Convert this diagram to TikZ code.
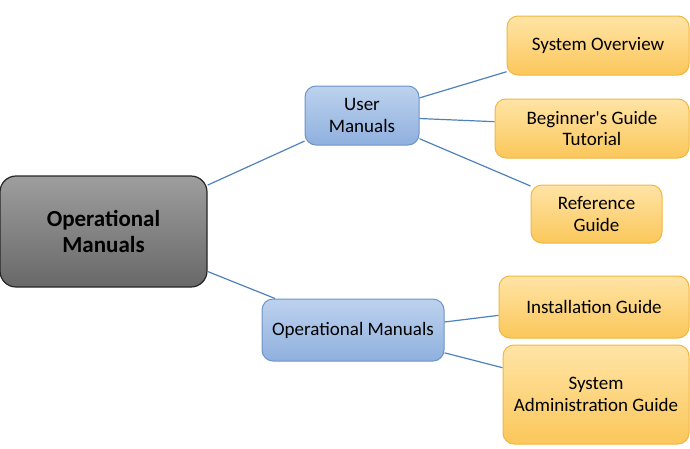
\documentclass[tikz,border=0pt]{standalone}
\usepackage{fontspec}
\setmainfont{Carlito}
\definecolor{ybot}{HTML}{FBC75A}
\definecolor{ytop}{HTML}{FFE4A6}
\definecolor{yline}{HTML}{F2B640}
\definecolor{btop}{HTML}{BDD2EE}
\definecolor{bbot}{HTML}{8FB0DE}
\definecolor{bline}{HTML}{6C94C8}
\definecolor{gtop}{HTML}{9E9E9E}
\definecolor{gbot}{HTML}{686868}
\definecolor{conn}{HTML}{4F81BD}
\tikzset{
  boxbase/.style={rounded corners=11pt, inner sep=0pt, align=center, line width=1pt,
    font=\fontsize{19}{21.5}\selectfont},
  leafbox/.style={boxbase, draw=yline, top color=ytop, bottom color=ybot},
  midbox/.style={boxbase, draw=bline, top color=btop, bottom color=bbot},
  rootbox/.style={boxbase, rounded corners=16pt, draw=black!85, line width=1.2pt, top color=gtop, bottom color=gbot,
    font=\fontsize{23}{26.5}\selectfont\bfseries},
  link/.style={draw=conn, line width=1.2pt}
}
\begin{document}
\begin{tikzpicture}[x=1pt,y=-1pt]
\useasboundingbox (0,0) rectangle (690,448);
\node[rootbox, minimum width=207pt, minimum height=111pt] (root) at (103.5,231.5) {Operational\\Manuals};
\node[midbox, minimum width=114pt, minimum height=59pt] (user) at (362,115.5) {User\\Manuals};
\node[midbox, minimum width=182pt, minimum height=62pt] (ops) at (353,330) {Operational Manuals};
\node[leafbox, minimum width=182pt, minimum height=59pt] (sysov) at (598,45.5) {System Overview};
\node[leafbox, minimum width=194pt, minimum height=59pt] (begin) at (592,128.5) {Beginner\textquotesingle s Guide\\Tutorial};
\node[leafbox, minimum width=131pt, minimum height=58pt] (refg) at (596.5,214) {Reference\\Guide};
\node[leafbox, minimum width=190pt, minimum height=62pt] (inst) at (594,307) {Installation Guide};
\node[leafbox, minimum width=186pt, minimum height=99pt] (sadm) at (596,394.5) {System\\Administration Guide};
\draw[link] (root.24) -- (user.204);
\draw[link] (root.-21) -- (ops.158.6);
\draw[link] (user.17) -- (sysov.196);
\draw[link] (user.-3.5) -- (begin.176.8);
\draw[link] (user.-22.4) -- (refg.157.6);
\draw[link] (ops.5.6) -- (inst.185.4);
\draw[link] (ops.-14.2) -- (sadm.164.7);
\end{tikzpicture}
\end{document}
